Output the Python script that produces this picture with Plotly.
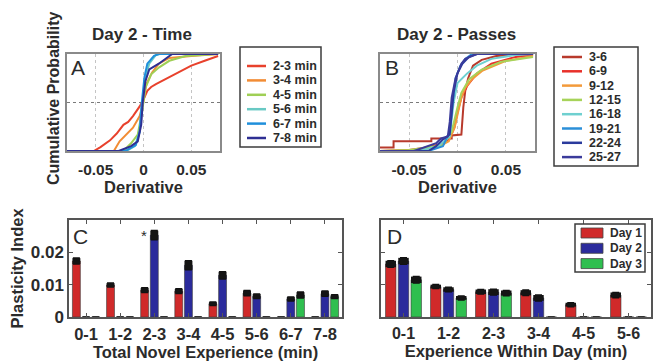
import plotly.graph_objects as go

W, H = 653, 361
FONT = "Liberation Sans, Arial, sans-serif"
TXT = "#2b2b2b"

# ---------------- Panel A: Day 2 - Time (CDFs of derivative) ----------------
time_names = ["2-3 min", "3-4 min", "4-5 min", "5-6 min", "6-7 min", "7-8 min"]
time_colors = ["#e8412c", "#f28c34", "#9fcf55", "#69c9c4", "#1f8fdb", "#2e2f93"]
t23_x = [-0.08, -0.052, -0.045, -0.035, -0.028, -0.021, -0.016, -0.011, -0.004, 0.0, 0.004, 0.008, 0.013, 0.023, 0.037, 0.050, 0.064, 0.078]
t23_y = [0, 0, 0.04, 0.11, 0.18, 0.27, 0.30, 0.36, 0.46, 0.53, 0.62, 0.66, 0.69, 0.74, 0.81, 0.88, 0.93, 0.98]
t34_x = [-0.08, -0.031, -0.025, -0.018, -0.014, -0.011, -0.004, 0.0, 0.003, 0.009, 0.016, 0.027, 0.05, 0.078]
t34_y = [0, 0, 0.10, 0.17, 0.20, 0.24, 0.36, 0.51, 0.69, 0.81, 0.90, 0.96, 0.98, 1.0]
t45_x = [-0.08, -0.021, -0.013, -0.006, -0.0014, 0.002, 0.008, 0.016, 0.027, 0.044, 0.078]
t45_y = [0, 0, 0.08, 0.17, 0.41, 0.65, 0.79, 0.86, 0.93, 0.98, 1.0]
t56_x = [-0.08, -0.018, -0.009, -0.004, -0.0014, 0.002, 0.006, 0.013, 0.017, 0.078]
t56_y = [0, 0, 0.05, 0.20, 0.48, 0.76, 0.90, 0.99, 1.0, 1.0]
t67_x = [-0.08, -0.019, -0.008, -0.004, -0.002, 0.001, 0.004, 0.011, 0.016, 0.078]
t67_y = [0, 0, 0.06, 0.20, 0.48, 0.76, 0.90, 0.98, 1.0, 1.0]
t78_x = [-0.08, -0.026, -0.013, -0.006, -0.0024, -0.0007, 0.002, 0.006, 0.016, 0.023, 0.030, 0.078]
t78_y = [0, 0, 0.05, 0.10, 0.27, 0.51, 0.72, 0.84, 0.90, 0.95, 1.0, 1.0]
time_x = [t23_x, t34_x, t45_x, t56_x, t67_x, t78_x]
time_y = [t23_y, t34_y, t45_y, t56_y, t67_y, t78_y]

# ---------------- Panel B: Day 2 - Passes ----------------
pass_names = ["3-6", "6-9", "9-12", "12-15", "16-18", "19-21", "22-24", "25-27"]
pass_colors = ["#b83a2c", "#e8302a", "#f39a3a", "#a7d35a", "#6fd0d0", "#2b8fd8", "#2a3a9c", "#3b3b9b"]
p36_x = [-0.08, -0.066, -0.066, -0.027, -0.027, -0.006, -0.006, 0.004, 0.006, 0.008, 0.011, 0.016, 0.025, 0.04, 0.078]
p36_y = [0.035, 0.035, 0.10, 0.10, 0.13, 0.13, 0.16, 0.17, 0.45, 0.62, 0.75, 0.88, 0.94, 0.98, 1.0]
p69_x = [-0.08, -0.05, -0.03, -0.015, -0.008, -0.003, 0.0, 0.004, 0.01, 0.02, 0.035, 0.06, 0.078]
p69_y = [0, 0.01, 0.04, 0.08, 0.13, 0.25, 0.40, 0.55, 0.67, 0.80, 0.90, 0.97, 0.99]
p912_x = [-0.08, -0.04, -0.02, -0.009, -0.003, 0.001, 0.004, 0.008, 0.015, 0.026, 0.05, 0.078]
p912_y = [0, 0.01, 0.04, 0.10, 0.24, 0.40, 0.55, 0.65, 0.74, 0.83, 0.93, 0.98]
p1215_x = [-0.08, -0.05, -0.015, -0.006, 0.0, 0.004, 0.012, 0.025, 0.045, 0.078]
p1215_y = [0, 0.01, 0.06, 0.20, 0.45, 0.60, 0.74, 0.84, 0.92, 0.97]
p1618_x = [-0.08, -0.04, -0.02, -0.008, -0.004, 0.0, 0.01, 0.02, 0.035, 0.06, 0.078]
p1618_y = [0, 0, 0.05, 0.15, 0.50, 0.70, 0.80, 0.88, 0.95, 0.99, 1.0]
p1921_x = [-0.08, -0.03, -0.015, -0.008, -0.005, -0.002, 0.003, 0.008, 0.015, 0.078]
p1921_y = [0, 0, 0.05, 0.20, 0.50, 0.75, 0.88, 0.95, 1.0, 1.0]
p2224_x = [-0.08, -0.03, -0.022, -0.015, -0.008, -0.006, -0.004, 0.0, 0.005, 0.012, 0.02, 0.078]
p2224_y = [0, 0, 0.05, 0.12, 0.17, 0.40, 0.60, 0.80, 0.90, 0.97, 1.0, 1.0]
p2527_x = [-0.08, -0.045, -0.022, -0.017, -0.01, -0.008, -0.006, -0.002, 0.004, 0.008, 0.02, 0.078]
p2527_y = [0, 0, 0.08, 0.13, 0.15, 0.30, 0.55, 0.75, 0.90, 0.95, 1.0, 1.0]
pass_x = [p36_x, p69_x, p912_x, p1215_x, p1618_x, p1921_x, p2224_x, p2527_x]
pass_y = [p36_y, p69_y, p912_y, p1215_y, p1618_y, p1921_y, p2224_y, p2527_y]

deriv_ticks = [-0.05, 0, 0.05]
deriv_ticktext = ["-0.05", "0", "0.05"]

# ---------------- Panel C: Total novel experience ----------------
day_names = ["Day 1", "Day 2", "Day 3"]
day_colors = ["#d02a2a", "#2b2b9c", "#2fbf4f"]
c_cats = ["0-1", "1-2", "2-3", "3-4", "4-5", "5-6", "6-7", "7-8"]
c_day1 = [0.0173, 0.0099, 0.0083, 0.0080, 0.0041, 0.0074, 0.0, 0.0]
c_day1_err = [0.0009, 0.0006, 0.0007, 0.0007, 0.0005, 0.0008, 0.0, 0.0]
c_day2 = [0.0, 0.0, 0.0253, 0.0160, 0.0129, 0.0064, 0.0056, 0.0072]
c_day2_err = [0.0, 0.0, 0.0014, 0.0014, 0.0011, 0.0007, 0.0006, 0.0008]
c_day3 = [0.0, 0.0, 0.0, 0.0, 0.0, 0.0, 0.0068, 0.0063]
c_day3_err = [0.0, 0.0, 0.0, 0.0, 0.0, 0.0, 0.0009, 0.0006]

# ---------------- Panel D: Experience within day ----------------
d_cats = ["0-1", "1-2", "2-3", "3-4", "4-5", "5-6"]
d_day1 = [0.0164, 0.0094, 0.0078, 0.0075, 0.0038, 0.0068]
d_day1_err = [0.0010, 0.0006, 0.0007, 0.0008, 0.0006, 0.0008]
d_day2 = [0.0173, 0.0085, 0.0077, 0.0059, 0.0, 0.0]
d_day2_err = [0.0010, 0.0007, 0.0009, 0.0009, 0.0, 0.0]
d_day3 = [0.0115, 0.0059, 0.0074, 0.0, 0.0, 0.0]
d_day3_err = [0.0010, 0.0006, 0.0008, 0.0, 0.0, 0.0]

plasticity_ticks = [0, 0.01, 0.02]
plasticity_ticktext = ["0", "0.01", "0.02"]

fig = go.Figure()

for name, col, xs, ys in zip(time_names, time_colors, time_x, time_y):
    fig.add_trace(go.Scatter(x=xs, y=ys, mode="lines", name=name,
                             line=dict(color=col, width=2), xaxis="x", yaxis="y",
                             showlegend=False))
for name, col, xs, ys in zip(pass_names, pass_colors, pass_x, pass_y):
    fig.add_trace(go.Scatter(x=xs, y=ys, mode="lines", name=name,
                             line=dict(color=col, width=2), xaxis="x2", yaxis="y2",
                             showlegend=False))


def add_bars(cats, vals, errs, xa, ya):
    for i, (name, col, v, e) in enumerate(zip(day_names, day_colors, vals, errs)):
        fig.add_trace(go.Bar(x=cats, y=v, name=name, marker=dict(color=col, line=dict(color="#3a3a3a", width=0.6)),
                             offsetgroup=str(i), xaxis=xa, yaxis=ya, showlegend=False,
                             error_y=dict(type="data", array=e, color="#111111", thickness=1.6, width=3.5)))
        fig.add_trace(go.Bar(x=cats, y=[2 * ee for ee in e], base=[vv - ee for vv, ee in zip(v, e)],
                             marker=dict(color="#141414", line=dict(width=0)), offsetgroup=str(i),
                             xaxis=xa, yaxis=ya, showlegend=False, hoverinfo="skip"))


add_bars(c_cats, [c_day1, c_day2, c_day3], [c_day1_err, c_day2_err, c_day3_err], "x3", "y3")
add_bars(d_cats, [d_day1, d_day2, d_day3], [d_day1_err, d_day2_err, d_day3_err], "x4", "y4")


def px(v):
    return v / W


def py(v):
    return 1 - v / H


def tf(size):
    return dict(family=FONT, size=size, color=TXT, weight="bold")


def b(s):
    return "<b>" + s + "</b>"


cdf_x = dict(range=[-0.08, 0.08], tickvals=deriv_ticks, ticktext=[b(t) for t in deriv_ticktext], showgrid=True,
             gridcolor="#c4c4c4", griddash="dot", gridwidth=1, zeroline=False, showline=True,
             linecolor="#8a8a8a", linewidth=1.5, mirror=True, ticks="", tickfont=tf(15.5),
             ticklabelstandoff=4, automargin=False,
             title=dict(text=b("Derivative"), font=tf(16.5), standoff=2))
cdf_y = dict(range=[0, 1], tickvals=[0.5], showticklabels=False, showgrid=True, gridcolor="#7a7a7a",
             griddash="dot", gridwidth=1.2, zeroline=False, showline=True, linecolor="#8a8a8a",
             linewidth=1.5, mirror=True, ticks="", automargin=False)
bar_x = dict(type="category", showline=True, linecolor="#555555", linewidth=1.5, mirror="ticks",
             ticks="inside", ticklen=4, tickcolor="#555555", showgrid=False, zeroline=False,
             automargin=False, ticklabelstandoff=1)
bar_y = dict(range=[0, 0.03], showline=True, linecolor="#555555", linewidth=1.5, mirror="ticks",
             ticks="inside", ticklen=4, tickcolor="#555555", showgrid=False, zeroline=False,
             automargin=False)

fig.update_layout(
    width=W, height=H, margin=dict(l=0, r=0, t=0, b=0),
    paper_bgcolor="white", plot_bgcolor="white",
    barmode="group", bargap=0.15, bargroupgap=0.18,
    showlegend=False,
    font=dict(family=FONT, color=TXT),
    xaxis=dict(domain=[px(67), px(220)], anchor="y", **cdf_x),
    yaxis=dict(domain=[py(151), py(54)], anchor="x", **cdf_y),
    xaxis2=dict(domain=[px(380), px(535)], anchor="y2", **cdf_x),
    yaxis2=dict(domain=[py(151), py(54)], anchor="x2", **cdf_y),
    xaxis3=dict(domain=[px(69), px(342)], anchor="y3", range=[-0.5, 7.5], tickfont=tf(16.5),
                tickvals=c_cats, ticktext=[b(c) for c in c_cats],
                title=dict(text=b("Total Novel Experience (min)"), font=tf(16.5), standoff=4), **bar_x),
    yaxis3=dict(domain=[py(317), py(220)], anchor="x3", tickvals=plasticity_ticks,
                ticktext=[b(t) for t in plasticity_ticktext], tickfont=tf(17),
                title=dict(text=b("Plasticity Index"), font=tf(16.5), standoff=3), **bar_y),
    xaxis4=dict(domain=[px(381), px(651)], anchor="y4", range=[-0.5, 5.5], tickfont=tf(16),
                tickvals=d_cats, ticktext=[b(c) for c in d_cats],
                title=dict(text=b("Experience Within Day (min)"), font=tf(16.5), standoff=4), **bar_x),
    yaxis4=dict(domain=[py(317), py(220)], anchor="x4", tickvals=plasticity_ticks,
                showticklabels=False, **bar_y),
)

ann = []
shapes = []
# shared y title of the CDF panels
ann.append(dict(text=b("Cumulative Probability"), x=px(53), y=py(99), xref="paper", yref="paper",
                textangle=-90, showarrow=False, xanchor="center", yanchor="middle", font=tf(16)))
# panel titles
ann.append(dict(text=b("Day 2 - Time"), x=px(142), y=py(35), xref="paper", yref="paper",
                showarrow=False, xanchor="center", yanchor="middle", font=tf(17)))
ann.append(dict(text=b("Day 2 - Passes"), x=px(456), y=py(35), xref="paper", yref="paper",
                showarrow=False, xanchor="center", yanchor="middle", font=tf(17)))
# panel letters
for letter, (lx, ly) in zip(["A", "B", "C", "D"], [(78, 68), (392, 67), (80, 236), (394, 236)]):
    ann.append(dict(text=letter, x=px(lx), y=py(ly), xref="paper", yref="paper", showarrow=False,
                    xanchor="center", yanchor="middle",
                    font=dict(family=FONT, size=21, color=TXT)))
# significance star above Day 2, 2-3 min (placed over Day 1 slot)
ann.append(dict(text="*", x=c_cats.index("2-3") - 0.3, y=c_day2[2], xref="x3", yref="y3",
                showarrow=False, xanchor="center", yanchor="middle",
                font=dict(family=FONT, size=15, color=TXT)))


def line_legend(names, colors, box, y0, dy, sw, tx, fsize):
    x0, yt, x1, yb = box
    shapes.append(dict(type="rect", xref="paper", yref="paper", x0=px(x0), x1=px(x1), y0=py(yb), y1=py(yt),
                       line=dict(color="#3c3c3c", width=1.5), fillcolor="white", layer="above"))
    for i, (n, c) in enumerate(zip(names, colors)):
        yy = y0 + dy * i
        shapes.append(dict(type="line", xref="paper", yref="paper", x0=px(sw[0]), x1=px(sw[1]),
                           y0=py(yy), y1=py(yy), line=dict(color=c, width=2.5), layer="above"))
        ann.append(dict(text=b(n), x=px(tx), y=py(yy), xref="paper", yref="paper", showarrow=False,
                        xanchor="left", yanchor="middle", font=tf(fsize)))


line_legend(time_names, time_colors, (240, 47, 321, 147), 66, 14.4, (247, 266), 271, 12.5)
line_legend(pass_names, pass_colors, (554, 47, 638, 166), 57, 14.3, (562, 582), 587, 12.5)

# bar legend for panel D
shapes.append(dict(type="rect", xref="paper", yref="paper", x0=px(575), x1=px(645), y0=py(272), y1=py(224),
                   line=dict(color="#3c3c3c", width=1.5), fillcolor="white", layer="above"))
for i, (n, c) in enumerate(zip(day_names, day_colors)):
    yy = 233 + 15.3 * i
    shapes.append(dict(type="rect", xref="paper", yref="paper", x0=px(581), x1=px(603),
                       y0=py(yy + 5), y1=py(yy - 5), fillcolor=c, line=dict(color="#444", width=0.8),
                       layer="above"))
    ann.append(dict(text=b(n), x=px(608), y=py(yy), xref="paper", yref="paper", showarrow=False,
                    xanchor="left", yanchor="middle", font=tf(12)))

fig.update_layout(annotations=ann, shapes=shapes)
fig.write_html("out.html")
